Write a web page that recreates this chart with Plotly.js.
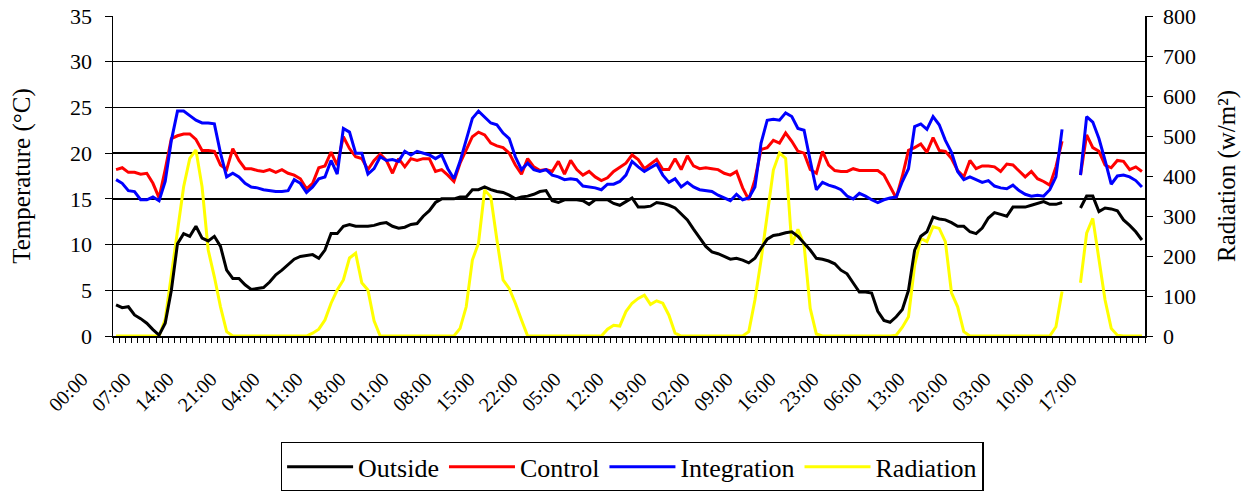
<!DOCTYPE html>
<html><head><meta charset="utf-8">
<script src="https://cdn.plot.ly/plotly-3.0.1.min.js"></script>
<style>html,body{margin:0;padding:0;background:#fff}#chart{width:1247px;height:491px}</style>
</head><body><div id="chart"></div>
<script>
const outside = [3.4,3.1,3.2,2.3,1.9,1.4,0.7,0.1,1.4,5.0,10.1,11.2,10.9,12.0,10.7,10.4,10.9,9.8,7.2,6.3,6.3,5.6,5.1,5.2,5.3,5.9,6.7,7.2,7.8,8.4,8.7,8.8,8.9,8.5,9.4,11.2,11.2,12.0,12.2,12.0,
12.0,12.0,12.1,12.3,12.4,12.0,11.8,11.9,12.2,12.3,13.1,13.7,14.6,15.0,15.0,15.0,15.2,15.2,16.0,16.0,16.3,16.0,15.8,15.7,15.4,15.0,15.2,15.3,15.5,15.8,
15.9,14.8,14.6,14.9,14.9,14.9,14.8,14.4,14.9,14.9,14.9,14.5,14.3,14.7,15.1,14.1,14.1,14.2,14.6,14.5,14.3,14.0,13.4,12.7,11.7,10.7,9.8,9.2,9.0,8.7,
8.4,8.5,8.3,8.0,8.5,9.6,10.6,11.0,11.1,11.3,11.4,10.9,10.2,9.4,8.5,8.4,8.2,7.9,7.2,6.8,5.8,4.8,4.8,4.7,2.7,1.7,1.5,2.1,2.9,5.0,
9.4,10.9,11.4,13.0,12.8,12.7,12.4,12.0,12.0,11.4,11.2,11.8,12.9,13.5,13.3,13.1,14.1,14.1,14.1,14.3,14.5,14.7,14.4,14.4,14.6,null,null,14.0,15.3,15.3,
13.6,14.0,13.9,13.7,12.7,12.1,11.4,10.5];

const control = [18.2,18.4,17.9,17.9,17.7,17.8,16.7,15.1,18.2,21.6,21.9,22.1,22.1,21.5,20.3,20.3,20.2,18.7,18.2,20.5,19.2,18.3,18.3,18.1,18.0,18.2,17.9,18.2,17.8,17.6,17.2,16.1,16.7,18.4,18.6,20.1,18.7,21.8,20.5,19.6,
19.4,18.2,19.2,19.9,19.2,17.8,19.4,18.5,19.4,19.2,19.4,19.4,18.0,18.2,17.6,16.9,18.9,20.3,21.8,22.3,22.0,21.1,20.8,20.6,20.0,18.7,17.7,19.4,18.5,18.1,
18.2,18.0,19.1,17.7,19.2,18.2,17.6,18.0,17.4,17.0,17.3,18.0,18.5,18.9,19.8,19.3,18.3,18.8,19.3,18.2,18.2,19.4,18.2,19.7,18.6,18.3,18.4,18.3,18.2,17.8,
17.6,18.0,16.2,14.9,17.1,20.4,20.6,21.4,21.1,22.2,21.3,20.2,20.0,18.2,17.8,20.2,18.7,18.1,18.0,18.0,18.3,18.1,18.1,18.1,18.1,17.6,16.3,15.1,17.5,20.3,
20.6,21.0,20.1,21.7,20.3,20.2,19.4,18.1,17.4,19.2,18.3,18.6,18.6,18.5,18.0,18.8,18.7,18.0,17.4,18.0,17.2,16.9,16.5,18.5,21.3,null,null,17.6,22.0,20.6,
20.2,18.7,18.4,19.2,19.1,18.2,18.5,18.0];

const integration = [17.1,16.7,15.9,15.8,14.9,14.9,15.2,14.8,16.9,21.4,24.6,24.6,24.1,23.6,23.3,23.3,23.2,20.0,17.4,17.8,17.4,16.7,16.3,16.2,16.0,15.9,15.8,15.8,15.9,17.1,16.7,15.7,16.3,17.2,17.4,19.2,17.7,22.7,22.3,20.0,
20.0,17.7,18.3,19.6,19.2,19.3,19.1,20.2,19.8,20.2,20.0,19.8,19.4,19.8,18.3,17.2,19.1,21.4,23.8,24.6,24.0,23.3,23.1,22.2,21.6,19.6,18.2,18.9,18.2,18.0,
18.2,17.6,17.4,17.1,17.2,17.1,16.4,16.3,16.2,16.0,16.6,16.6,16.9,17.6,19.1,18.5,18.0,18.4,18.8,17.6,16.8,17.2,16.3,16.8,16.3,16.0,15.9,15.8,15.4,15.1,
14.8,15.5,14.9,15.1,16.3,21.1,23.6,23.7,23.6,24.4,24.0,22.7,22.5,19.2,16.0,16.8,16.5,16.3,16.0,15.3,15.0,15.6,15.3,14.9,14.6,14.9,15.1,15.2,16.9,18.3,
22.9,23.2,22.6,24.0,23.1,21.4,20.1,18.0,17.1,17.4,17.1,16.8,17.0,16.4,16.2,16.1,16.5,15.9,15.5,15.3,15.4,15.3,16.0,17.4,22.6,null,null,17.6,24.0,23.4,
21.6,19.2,16.6,17.5,17.6,17.4,17.0,16.3];

const radiation = [0,0,0,0,0,0,0,0,42,153,265,373,444,465,373,215,148,73,11,0,0,0,0,0,0,0,0,0,0,0,0,0,7,17,40,82,115,140,195,207,
133,115,38,0,0,0,0,0,0,0,0,0,0,0,0,0,19,73,190,232,365,348,240,140,119,82,40,0,0,0,
0,0,0,0,0,0,0,0,0,0,17,27,25,61,82,94,102,79,88,82,52,7,0,0,0,0,0,0,0,0,
0,0,0,11,90,190,298,415,458,444,228,267,228,69,5,0,0,0,0,0,0,0,0,0,0,0,0,2,22,48,
177,244,236,273,269,236,108,73,11,0,0,0,0,0,0,0,0,0,0,0,0,0,0,23,111,null,null,133,257,294,
194,90,19,2,0,0,0,0];

const tickLabels = ['00:00','07:00','14:00','21:00','04:00','11:00','18:00','01:00','08:00','15:00','22:00','05:00',
'12:00','19:00','02:00','09:00','16:00','23:00','06:00','13:00','20:00','03:00','10:00','17:00'];
const labelStep = 7;

const hourIndex = outside.map((_, i) => i);
const tickVals = tickLabels.map((_, k) => k * labelStep);
const FONT = 'Liberation Serif, Times New Roman, serif';

const traces = [
  {name:'Radiation', x:hourIndex, y:radiation, yaxis:'y', type:'scatter', mode:'lines',
   line:{color:'#ffff00', width:3}, legendrank:4, hoverinfo:'skip'},
  {name:'Outside', x:hourIndex, y:outside, yaxis:'y2', type:'scatter', mode:'lines',
   line:{color:'#000000', width:3}, legendrank:1, hoverinfo:'skip'},
  {name:'Control', x:hourIndex, y:control, yaxis:'y2', type:'scatter', mode:'lines',
   line:{color:'#ff0000', width:3}, legendrank:2, hoverinfo:'skip'},
  {name:'Integration', x:hourIndex, y:integration, yaxis:'y2', type:'scatter', mode:'lines',
   line:{color:'#0000ff', width:3}, legendrank:3, hoverinfo:'skip'}
];

const layout = {
  width:1247, height:491,
  margin:{l:113, r:102, t:16, b:155, autoexpand:false},
  paper_bgcolor:'#ffffff', plot_bgcolor:'#ffffff',
  font:{family:FONT, color:'#000000', size:20},
  showlegend:true,
  legend:{orientation:'h', x:0.503, xanchor:'center', y:-0.331, yanchor:'top',
    bordercolor:'#000000', borderwidth:1.5, bgcolor:'#ffffff', font:{family:FONT, size:26}, itemwidth:66},
  xaxis:{range:[-0.5,167.5], tickmode:'array', tickvals:tickVals, ticktext:tickLabels, tickangle:-45,
    ticks:'', showgrid:false, zeroline:false, showline:true, linecolor:'#000000', linewidth:1.5,
    tickfont:{family:FONT, size:20}, ticklabelshift:-34, ticklabelstandoff:22,
    minor:{tickmode:'linear', tick0:0.5, dtick:1, ticks:'outside', ticklen:5, tickwidth:1, tickcolor:'#000000'}},
  yaxis:{range:[0,800], tickmode:'linear', tick0:0, dtick:100, side:'right', anchor:'x',
    showgrid:false, zeroline:false, showline:true, linecolor:'#000000', linewidth:1.5,
    ticks:'outside', ticklen:6, tickcolor:'#000000', tickfont:{family:FONT, size:22}, ticklabelstandoff:6,
    title:{text:'Radiation (w/m²)', font:{family:FONT, size:25}, standoff:22}},
  yaxis2:{range:[0,35], tickmode:'linear', tick0:0, dtick:5, overlaying:'y', side:'left', anchor:'x',
    showgrid:true, gridcolor:'#000000', gridwidth:1.5, zeroline:false, showline:true,
    linecolor:'#000000', linewidth:1.5, ticks:'outside', ticklen:7, tickcolor:'#000000',
    tickfont:{family:FONT, size:22}, ticklabelstandoff:8,
    title:{text:'Temperature (°C)', font:{family:FONT, size:25}, standoff:32}}
};

Plotly.newPlot('chart', traces, layout, {displayModeBar:false, staticPlot:true});
</script>
</body></html>
